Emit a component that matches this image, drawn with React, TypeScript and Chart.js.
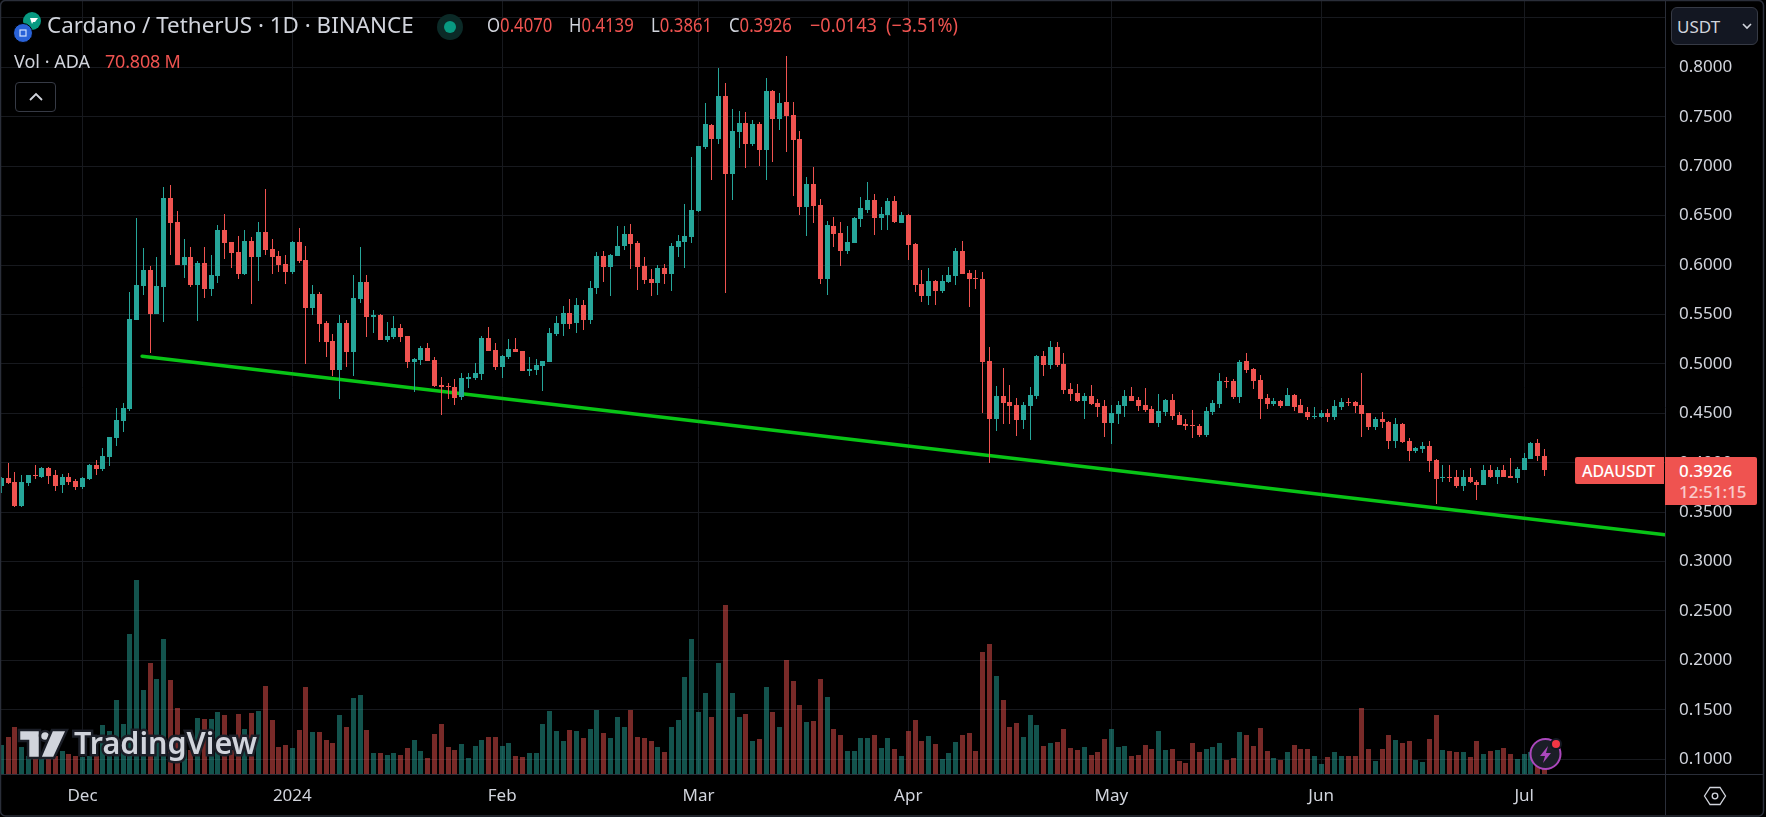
import React, { useEffect, useRef } from "react";
import Chart from "chart.js/auto";

const opens = [
.3763,.3844,.3804,.3561,.3794,.3874,.3854,.3945,.3874,.3773,
.3854,.3814,.3753,.3834,.3976,.3935,.4056,.4249,.4420,.4542,
.5442,.5785,.5947,.5502,.5775,.6675,.6432,.5998,.6078,.5795,
.6018,.5755,.5886,.6351,.6230,.6129,.5907,.6240,.6078,.6331,
.6159,.6089,.6008,.5927,.6230,.6048,.5563,.5704,.5411,.5229,
.4936,.5411,.5118,.5654,.5826,.5472,.5492,.5239,.5270,.5361,
.5280,.5017,.5037,.5159,.5037,.4785,.4775,.4764,.4663,.4845,
.4855,.4896,.5260,.5139,.4967,.5068,.5149,.5128,.4926,.4936,
.4977,.5017,.5300,.5401,.5513,.5411,.5593,.5442,.5765,.6089,
.5978,.6089,.6190,.6311,.6220,.5988,.5856,.5816,.5968,.5910,
.6183,.6234,.6284,.6547,.7194,.7417,.7275,.7710,.6921,.7346,
.7437,.7225,.7427,.7164,.7760,.7477,.7649,.7518,.7275,.6588,
.6820,.6608,.5860,.6396,.6325,.6143,.6224,.6466,.6557,.6658,
.6476,.6507,.6648,.6426,.6507,.6214,.5809,.5688,.5839,.5738,
.5829,.5892,.6145,.5922,.5872,.5862,.5033,.4446,.4679,.4618,
.4588,.4436,.4578,.4679,.5083,.4992,.5174,.5002,.4749,.4709,
.4628,.4679,.4608,.4578,.4406,.4497,.4578,.4679,.4638,.4588,
.4547,.4406,.4517,.4638,.4487,.4396,.4386,.4375,.4284,.4517,
.4598,.4830,.4830,.4669,.5033,.4952,.4841,.4658,.4598,.4628,
.4578,.4689,.4588,.4517,.4466,.4466,.4507,.4466,.4567,.4618,
.4618,.4589,.4498,.4366,.4447,.4417,.4215,.4387,.4215,.4114,
.4134,.4174,.4023,.3841,.3851,.3851,.3760,.3851,.3810,.3770,
.3922,.3851,.3922,.3861,.3841,.3922,.4033,.4195,.4070];

const closes = [
.3844,.3794,.3561,.3804,.3874,.3867,.3945,.3864,.3763,.3854,
.3804,.3753,.3844,.3976,.3935,.4067,.4259,.4431,.4552,.5452,
.5795,.5947,.5502,.5785,.6675,.6422,.5998,.6078,.5795,.6018,
.5755,.5896,.6351,.6220,.6119,.5907,.6240,.6078,.6331,.6149,
.6078,.5998,.5927,.6230,.6038,.5563,.5704,.5401,.5219,.4936,
.5411,.5118,.5664,.5826,.5472,.5492,.5239,.5280,.5361,.5270,
.5017,.5048,.5159,.5027,.4775,.4764,.4764,.4653,.4855,.4866,
.4906,.5260,.5128,.4967,.5078,.5149,.5118,.4926,.4946,.4987,
.5027,.5310,.5411,.5513,.5401,.5593,.5442,.5765,.6089,.5978,
.6099,.6190,.6311,.6210,.5978,.5846,.5816,.5968,.5907,.6193,
.6244,.6294,.6557,.7204,.7427,.7275,.7710,.6921,.7356,.7437,
.7225,.7427,.7164,.7760,.7477,.7639,.7508,.7265,.6588,.6820,
.6598,.5860,.6406,.6315,.6143,.6234,.6476,.6578,.6658,.6476,
.6517,.6648,.6436,.6507,.6203,.5799,.5688,.5839,.5738,.5839,
.5900,.6145,.5912,.5862,.5862,.5022,.4446,.4679,.4608,.4578,
.4436,.4588,.4689,.5083,.4992,.5174,.4992,.4739,.4699,.4628,
.4679,.4598,.4567,.4406,.4507,.4588,.4679,.4628,.4578,.4537,
.4406,.4527,.4638,.4476,.4386,.4375,.4375,.4284,.4527,.4608,
.4830,.4820,.4669,.5022,.4942,.4830,.4648,.4598,.4628,.4578,
.4689,.4567,.4507,.4466,.4476,.4507,.4466,.4578,.4618,.4608,
.4578,.4488,.4366,.4447,.4407,.4215,.4387,.4205,.4114,.4144,
.4174,.4013,.3831,.3851,.3841,.3760,.3851,.3800,.3770,.3922,
.3851,.3922,.3851,.3841,.3932,.4043,.4195,.4063,.3926];

const highs = [
.3854,.3996,.3905,.3874,.3874,.3976,.3955,.3955,.3925,.3885,
.3895,.3834,.3854,.3986,.4026,.4147,.4259,.4552,.4602,.5725,
.6473,.6169,.5987,.6078,.6786,.6806,.6543,.6260,.6180,.6038,
.6180,.6099,.6402,.6513,.6230,.6291,.6351,.6281,.6432,.6766,
.6260,.6139,.6099,.6240,.6372,.6190,.5795,.5725,.5431,.5300,
.5492,.5442,.5896,.6180,.5896,.5543,.5502,.5421,.5482,.5401,
.5280,.5058,.5179,.5209,.5068,.4866,.4805,.4845,.4906,.4906,
.5007,.5280,.5371,.5209,.5088,.5250,.5260,.5128,.5068,.5048,
.5027,.5361,.5482,.5583,.5654,.5664,.5644,.5836,.6129,.6139,
.6109,.6392,.6392,.6412,.6240,.6079,.5957,.5998,.6008,.6224,
.6305,.6618,.7093,.7204,.7639,.7427,.7993,.7841,.7578,.7558,
.7548,.7467,.7447,.7892,.7771,.7740,.8114,.7649,.7356,.6891,
.6992,.6669,.6446,.6486,.6436,.6396,.6486,.6689,.6840,.6719,
.6588,.6679,.6699,.6537,.6517,.6224,.5951,.5971,.5850,.5900,
.5981,.6175,.6246,.5953,.5953,.5932,.5174,.4780,.4962,.4790,
.4658,.4618,.4770,.5093,.5134,.5235,.5225,.5113,.4810,.4800,
.4709,.4790,.4648,.4638,.4588,.4628,.4739,.4770,.4669,.4760,
.4578,.4699,.4648,.4699,.4517,.4446,.4537,.4396,.4567,.4638,
.4911,.4871,.4851,.5043,.5113,.4962,.4891,.4699,.4658,.4638,
.4760,.4699,.4648,.4567,.4567,.4537,.4547,.4638,.4658,.4658,
.4628,.4912,.4498,.4467,.4518,.4427,.4457,.4397,.4255,.4164,
.4205,.4215,.4033,.3982,.3982,.3922,.3922,.3942,.3821,.3982,
.3972,.3952,.3982,.4043,.3952,.4094,.4205,.4245,.4139];

const lows = [
.3692,.3783,.3551,.3551,.3763,.3834,.3844,.3783,.3713,.3692,
.3773,.3723,.3733,.3824,.3874,.3915,.3965,.4168,.4309,.4521,
.5442,.5694,.5108,.5502,.5421,.6099,.5998,.5866,.5775,.5431,
.5664,.5684,.5816,.6058,.5967,.5856,.5896,.5603,.5836,.6099,
.5907,.5927,.5805,.5907,.6018,.4997,.5492,.5219,.5067,.4875,
.4643,.4966,.4875,.5613,.5270,.5310,.5239,.5219,.5249,.5219,
.4957,.4714,.4987,.5027,.4764,.4481,.4643,.4582,.4633,.4754,
.4835,.4835,.5128,.4936,.4855,.5048,.5118,.4926,.4876,.4886,
.4724,.5017,.5280,.5280,.5351,.5310,.5341,.5401,.5705,.5826,
.5684,.6089,.6150,.5957,.5745,.5806,.5684,.5695,.5806,.5738,
.6082,.5971,.6224,.6537,.7174,.6861,.7225,.5718,.6658,.7184,
.6982,.7204,.7002,.6861,.7043,.7366,.7144,.6699,.6507,.6294,
.6426,.5809,.5698,.6183,.5991,.6112,.6224,.6385,.6527,.6305,
.6355,.6355,.6426,.6426,.6052,.5728,.5627,.5597,.5597,.5718,
.5819,.5801,.5912,.5579,.5760,.4507,.4001,.4325,.4396,.4396,
.4274,.4345,.4234,.4648,.4881,.4952,.4972,.4699,.4628,.4618,
.4446,.4588,.4466,.4264,.4193,.4396,.4466,.4628,.4527,.4517,
.4406,.4365,.4476,.4436,.4386,.4335,.4254,.4264,.4264,.4487,
.4557,.4760,.4648,.4608,.4911,.4749,.4446,.4547,.4578,.4557,
.4578,.4527,.4507,.4436,.4446,.4456,.4416,.4436,.4537,.4578,
.4507,.4265,.4326,.4326,.4356,.4134,.4154,.4195,.4013,.4094,
.4094,.3911,.3578,.3810,.3810,.3740,.3719,.3790,.3618,.3770,
.3841,.3780,.3851,.3841,.3790,.3922,.4033,.4013,.3861];

// Volume in millions of ADA
const volumes = [
411,523,663,383,257,257,215,257,257,327,
285,257,243,257,257,691,607,1041,705,1951,
2707,1181,1545,1335,1881,1321,929,341,341,789,
775,775,873,831,341,845,635,859,887,1237,
761,383,411,369,621,1223,593,593,481,439,
831,663,1069,1111,621,299,299,271,299,271,
369,481,327,229,565,705,383,341,425,229,
397,481,523,523,397,439,257,243,299,299,
705,887,607,467,621,607,509,635,901,579,
509,803,663,901,523,509,467,383,313,663,
761,1363,1881,873,1139,803,1545,2357,1139,803,
845,467,495,1223,873,663,1587,1307,971,733,
747,1335,1083,635,551,327,327,509,509,551,
369,509,355,257,607,761,467,537,425,215,
299,453,551,579,327,1699,1811,1377,1041,663,
719,523,831,691,397,439,453,635,369,341,
383,271,313,495,635,383,397,257,271,411,
355,607,341,355,187,159,439,313,355,383,
439,201,229,593,551,397,649,327,229,201,
313,411,355,355,257,145,243,313,257,257,
257,929,355,187,355,551,481,439,467,201,
173,495,831,341,327,313,313,243,467,285,
327,341,369,285,215,285,313,154,70.8];

const monthIndex = [12, 43, 74, 103, 134, 164, 195, 225];
const monthLabels = ["Dec", "2024", "Feb", "Mar", "Apr", "May", "Jun", "Jul"];
const priceTicks = [0.1,0.15,0.2,0.25,0.3,0.35,0.4,0.45,0.5,0.55,0.6,0.65,0.7,0.75,0.8,0.85];
const trendIndex = [20.8, 245.8];
const trendPrice = [0.5078, 0.3271];

const UP = "#26a69a";
const DOWN = "#ef5350";
const UPV = "rgba(38,166,154,0.5)";
const DOWNV = "rgba(239,83,80,0.5)";
const GRID = "#17191e";
const EDGE = "#2a2e39";
const TEXT = "#d1d4dc";
const FONT = "'Noto Sans', sans-serif";

const snapBars = {
  id: "snapBars",
  beforeDatasetsDraw(chart: any) {
    for (const meta of chart.getSortedVisibleDatasetMetas()) {
      if (meta.type !== "bar") continue;
      for (const el of meta.data) {
        el.x = Math.round(el.x - 0.5) + 0.5;
        const t = Math.round(Math.min(el.y, el.base));
        let b = Math.round(Math.max(el.y, el.base));
        if (b === t) b = t + 1;
        el.y = t;
        el.base = b;
      }
    }
  },
};

const frame = {
  id: "frame",
  afterDraw(chart: any) {
    const c = chart.ctx;
    const a = chart.chartArea;
    c.save();
    c.strokeStyle = EDGE;
    c.lineWidth = 1;
    c.beginPath();
    c.moveTo(Math.round(a.right) + 0.5, 0);
    c.lineTo(Math.round(a.right) + 0.5, 815);
    c.moveTo(0, Math.round(a.bottom) + 0.5);
    c.lineTo(1763, Math.round(a.bottom) + 0.5);
    c.stroke();
    c.lineWidth = 1.5;
    c.beginPath();
    c.roundRect(0.5, 0.5, 1763, 815.5, 5);
    c.stroke();
    c.restore();
  },
};

const abs = (l: number, t: number, extra: any = {}) => ({
  position: "absolute", left: l, top: t, whiteSpace: "pre", lineHeight: 1, ...extra,
});
const squeezed = (k: number) => ({ transform: `scaleX(${k})`, transformOrigin: "left center" });

export default function App() {
  const ref = useRef<HTMLCanvasElement>(null);
  useEffect(() => {
    document.body.style.margin = "0";
    document.body.style.background = "#000";
    const x = opens.map((_, i) => i);
    const colorsC = opens.map((o, i) => (closes[i] >= o ? UP : DOWN));
    const colorsV = opens.map((o, i) => (closes[i] >= o ? UPV : DOWNV));
    const chart = new Chart(ref.current!, {
      data: {
        datasets: [
          {
            type: "bar", label: "Body", order: 1, grouped: false, barThickness: 5, inflateAmount: 0,
            data: x.map((i) => ({ x: i, y: [opens[i], closes[i]] })),
            backgroundColor: colorsC, yAxisID: "y", xAxisID: "x", borderWidth: 0,
          },
          {
            type: "bar", label: "Wick", order: 2, grouped: false, barThickness: 1, inflateAmount: 0,
            data: x.map((i) => ({ x: i, y: [lows[i], highs[i]] })),
            backgroundColor: colorsC, yAxisID: "y", xAxisID: "x", borderWidth: 0,
          },
          {
            type: "line", label: "Trend", order: 3,
            data: trendIndex.map((t, i) => ({ x: t, y: trendPrice[i] })),
            borderColor: "#08c416", borderWidth: 3.5, pointRadius: 0, yAxisID: "y", xAxisID: "x",
            borderCapStyle: "round",
          },
          {
            type: "bar", label: "Volume", order: 4, grouped: false, barThickness: 5, inflateAmount: 0,
            data: x.map((i) => ({ x: i, y: volumes[i] })),
            backgroundColor: colorsV, yAxisID: "v", xAxisID: "x", borderWidth: 0,
          },
        ],
      } as any,
      options: {
        responsive: false,
        animation: false,
        layout: { padding: { left: 1, top: 1, right: 0, bottom: 0 } },
        plugins: { legend: { display: false }, tooltip: { enabled: false } },
        scales: {
          x: {
            type: "linear", min: -0.044, max: 245.8, offset: false,
            grid: { color: GRID, drawTicks: false, offset: false },
            border: { display: false },
            afterBuildTicks: (s: any) => { s.ticks = monthIndex.map((v) => ({ value: v })); },
            afterFit: (s: any) => { s.height = 43; s.paddingLeft = 0; s.paddingRight = 0; },
            ticks: {
              autoSkip: false, maxRotation: 0, padding: 12, color: TEXT,
              font: { family: FONT, size: 17 },
              callback: (v: any) => monthLabels[monthIndex.indexOf(v)],
            },
          },
          y: {
            type: "linear", position: "right", min: 0.0851, max: 0.8671,
            grid: { color: GRID, drawTicks: false },
            border: { display: false },
            afterBuildTicks: (s: any) => { s.ticks = priceTicks.map((v) => ({ value: v })); },
            afterFit: (s: any) => { s.width = 101; s.paddingTop = 0; s.paddingBottom = 0; },
            ticks: {
              autoSkip: false, padding: 14, color: TEXT, crossAlign: "near",
              font: { family: FONT, size: 17 },
              callback: (v: any) => Number(v).toFixed(4),
            },
          },
          v: { type: "linear", display: false, min: 0, max: 10808, position: "left" },
        },
      } as any,
      plugins: [snapBars, frame],
    });
    return () => chart.destroy();
  }, []);

  const red = { color: DOWN };
  const lg = { fontSize: 19, ...squeezed(0.88) };
  return (
    <div style={{ position: "fixed", left: 0, top: 0, width: 1766, height: 817, background: "#000", overflow: "hidden", fontFamily: FONT, color: TEXT } as any}>
      <canvas ref={ref} width={1766} height={817} style={{ position: "absolute", left: 0, top: 0, display: "block" }} />

      {/* symbol icons */}
      <svg style={abs(12, 12) as any} width={32} height={34} viewBox="0 0 32 34">
        <circle cx="20" cy="9" r="9" fill="#089981" />
        <path d="M18 6h8l-3 4h-2l-1 2z" fill="#fff" />
        <circle cx="11" cy="21" r="9.5" fill="#2962d8" stroke="#000" strokeWidth="1" />
        <rect x="8" y="18" width="6" height="6" fill="none" stroke="#cfe0ff" strokeWidth="1.2" />
      </svg>
      <div style={abs(47, 14, { fontSize: 22.4 }) as any}>Cardano / TetherUS · 1D · BINANCE</div>
      <svg style={abs(436, 13) as any} width={28} height={28}>
        <circle cx="14" cy="14" r="13" fill="#0b2a27" />
        <circle cx="14" cy="14" r="6" fill="#089981" />
      </svg>
      <div style={abs(487, 16, lg) as any}>O<span style={red}>0.4070</span></div>
      <div style={abs(569, 16, lg) as any}>H<span style={red}>0.4139</span></div>
      <div style={abs(651, 16, lg) as any}>L<span style={red}>0.3861</span></div>
      <div style={abs(729, 16, lg) as any}>C<span style={red}>0.3926</span></div>
      <div style={abs(810, 16, { fontSize: 19, color: DOWN, ...squeezed(0.95) }) as any}>−0.0143</div>
      <div style={abs(886, 16, { fontSize: 19, color: DOWN, ...squeezed(0.95) }) as any}>(−3.51%)</div>
      <div style={abs(14, 52, { fontSize: 18 }) as any}>
        Vol · ADA
      </div>
      <div style={abs(105, 52, { fontSize: 18, color: DOWN, letterSpacing: -0.2 }) as any}>70.808 M</div>
      <div style={abs(15, 82, { width: 41, height: 30, border: "1px solid #363a45", borderRadius: 4, boxSizing: "border-box" }) as any}>
        <svg width={39} height={28}><path d="M14 17l6-6 6 6" fill="none" stroke={TEXT} strokeWidth="1.8" /></svg>
      </div>

      {/* currency button */}
      <div style={abs(1671, 7, { width: 87, height: 38, background: "#131722", border: "1px solid #363a45", borderRadius: 6, boxSizing: "border-box", fontSize: 17 }) as any}>
        <span style={abs(5, 10) as any}>USDT</span>
        <svg style={abs(70, 13) as any} width={10} height={10}><path d="M1 3l4 4 4-4" fill="none" stroke={TEXT} strokeWidth="1.6" /></svg>
      </div>

      {/* last price labels */}
      <div style={abs(1575, 457, { width: 89, height: 27, background: DOWN, borderRadius: "2px 0 0 2px", color: "#fff", fontSize: 16, fontWeight: 500 }) as any}>
        <span style={abs(7, 6) as any}>ADAUSDT</span>
      </div>
      <div style={abs(1665, 457, { width: 92, height: 48, background: DOWN, borderRadius: "0 2px 2px 0", color: "#fff", fontSize: 17, fontWeight: 500 }) as any}>
        <span style={abs(14, 5) as any}>0.3926</span>
        <span style={abs(14, 26, { opacity: 0.7 }) as any}>12:51:15</span>
      </div>

      {/* watermark */}
      <svg style={abs(16, 727) as any} width={54} height={36} viewBox="0 0 54 36">
        <path d="M3 3h21v28H12V14H3z" fill="#d1d4dc" stroke="#1b1e27" strokeWidth="2.5" />
        <circle cx="29" cy="9" r="5" fill="#d1d4dc" stroke="#1b1e27" strokeWidth="2.5" />
        <path d="M36 3h15L38 31H24z" fill="#d1d4dc" stroke="#1b1e27" strokeWidth="2.5" />
      </svg>
      <div style={abs(74, 727, { fontSize: 30.5, fontWeight: 600, color: "#d1d4dc", WebkitTextStroke: "5px #1b1e27", paintOrder: "stroke fill" }) as any}>TradingView</div>

      {/* bolt badge */}
      <svg style={abs(1528, 736) as any} width={38} height={36} viewBox="0 0 38 36">
        <circle cx="17.5" cy="18" r="15" fill="#1b1e27" stroke="#ab47bc" strokeWidth="2" />
        <path d="M20 10l-8 10h5l-2 7 8-10h-5z" fill="#ab47bc" />
        <circle cx="28" cy="8" r="6" fill="#131722" />
        <circle cx="28" cy="8" r="4" fill="#f23645" />
      </svg>

      {/* settings hexagon */}
      <svg style={abs(1703, 786) as any} width={24} height={20} viewBox="0 0 24 20">
        <path d="M7 1.5h10l5.5 8.5-5.5 8.5H7L1.5 10z" fill="none" stroke={TEXT} strokeWidth="1.3" />
        <circle cx="12" cy="10" r="2.8" fill="none" stroke={TEXT} strokeWidth="1.3" />
      </svg>
    </div>
  );
}
